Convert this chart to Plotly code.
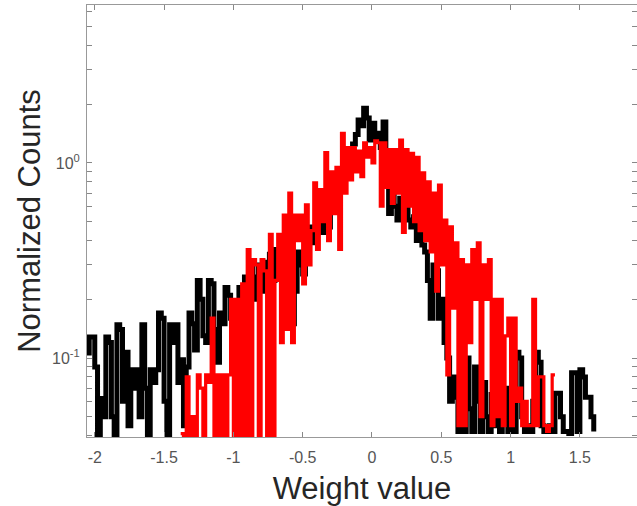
import plotly.graph_objects as go

# Black histogram (bins of 0.02 starting at -2.06)
black_x0 = -2.06
black_step = 0.02
black_counts = [
    0.106, 0.128, 0.128, 0.09, 0.04, 0.062, 0.05, 0.128, 0.12, 0.05,
    0.04, 0.148, 0.14, 0.06, 0.107, 0.045, 0.087, 0.07, 0.087, 0.05,
    0.148, 0.07, 0.04, 0.087, 0.075, 0.087, 0.17, 0.16, 0.06, 0.04,
    0.148, 0.12, 0.148, 0.075, 0.098, 0.045, 0.09, 0.17, 0.15, 0.11,
    0.25, 0.2, 0.13, 0.12, 0.25, 0.24, 0.14, 0.095, 0.17, 0.15,
    0.23, 0.21, 0.16, 0.12, 0.19, 0.23, 0.18, 0.26, 0.21, 0.29,
    0.2, 0.26, 0.3, 0.22, 0.31, 0.27, 0.34, 0.25, 0.36, 0.3,
    0.33, 0.4, 0.29, 0.2, 0.15, 0.22, 0.35, 0.3, 0.27, 0.32,
    0.42, 0.47, 0.39, 0.5, 0.44, 0.52, 0.44, 0.47, 0.58, 0.67,
    0.75, 0.82, 0.9, 0.98, 1.05, 1.1, 1.25, 1.4, 1.66, 1.55,
    1.91, 1.7, 1.31, 1.6, 1.35, 1.42, 1.2, 1.62, 1.1, 0.55,
    0.72, 0.6, 0.51, 0.66, 0.55, 0.6, 0.51, 0.47, 0.53, 0.4,
    0.45, 0.38, 0.35, 0.25, 0.16, 0.3, 0.28, 0.16, 0.2, 0.12,
    0.1, 0.06, 0.08, 0.063, 0.042, 0.07, 0.042, 0.1, 0.055, 0.042,
    0.09, 0.06, 0.042, 0.075, 0.05, 0.042, 0.065, 0.045, 0.06, 0.042,
    0.055, 0.07, 0.042, 0.06, 0.042, 0.107, 0.1, 0.05, 0.042, 0.045,
    0.042, 0.06, 0.107, 0.095, 0.045, 0.042, 0.042, 0.045, 0.042, 0.066,
    0.066, 0.05, 0.042, 0.042, 0.041, 0.084, 0.084, 0.042, 0.087, 0.08,
    0.063, 0.063, 0.05, 0.042, None, 0.042, None, None, None, None,
    0.042, None,
]

# Red histogram (bins of 0.02 starting at -1.64)
red_x0 = -1.64
red_step = 0.02
red_counts = [
    None, 0.041, None, None, 0.041, None, None, None, 0.041, None,
    None, None, None, 0.041, 0.04, 0.08, 0.04, 0.05, 0.04, 0.082,
    0.07, 0.04, 0.082, 0.075, 0.16, 0.04, 0.082, 0.04, 0.082, 0.04,
    0.082, 0.2, 0.04, 0.2, 0.04, 0.24, 0.04, 0.36, 0.04, 0.32,
    0.3, 0.04, 0.32, 0.28, 0.04, 0.43, 0.04, 0.25, 0.43, 0.12,
    0.54, 0.14, 0.7, 0.12, 0.54, 0.4, 0.54, 0.24, 0.61, 0.3,
    0.45, 0.79, 0.36, 0.73, 0.5, 1.13, 0.4, 0.9, 0.55, 0.95,
    0.36, 1.42, 0.7, 1.2, 0.82, 1.2, 0.9, 1.15, 0.85, 1.27,
    1.07, 1.2, 1.0, 1.3, 1.27, 0.6, 1.27, 0.75, 1.17, 0.62,
    1.17, 0.7, 1.31, 0.44, 1.17, 0.6, 1.12, 0.5, 1.07, 0.45,
    0.89, 0.4, 0.8, 0.35, 0.7, 0.22, 0.77, 0.3, 0.51, 0.082,
    0.47, 0.18, 0.39, 0.045, 0.32, 0.045, 0.3, 0.12, 0.36, 0.2,
    0.39, 0.05, 0.3, 0.2, 0.32, 0.045, 0.2, 0.05, 0.2, 0.045,
    0.13, 0.16, 0.045, 0.16, 0.06, 0.07, 0.045, 0.06, 0.045, 0.045,
    0.2, 0.045, 0.08, 0.08, 0.045, 0.042, 0.045, 0.082, 0.082,
]

x_tick_vals = [-2, -1.5, -1, -0.5, 0, 0.5, 1, 1.5]
x_tick_text = ["-2", "-1.5", "-1", "-0.5", "0", "0.5", "1", "1.5"]
y_tick_vals = [0.1, 1]
y_tick_text = ["10<sup>-1</sup>", "10<sup>0</sup>"]
y_minor_vals = [0.04, 0.05, 0.06, 0.07, 0.08, 0.09, 0.2, 0.3, 0.4, 0.5,
                0.6, 0.7, 0.8, 0.9, 2, 3, 4, 5, 6]

bx = [round(black_x0 + i * black_step, 4) for i in range(len(black_counts))]
rx = [round(red_x0 + i * red_step, 4) for i in range(len(red_counts))]

fig = go.Figure()
fig.add_trace(go.Scatter(x=bx, y=black_counts, mode="lines",
                         line=dict(color="black", width=5, shape="hv"),
                         connectgaps=False, showlegend=False))
fig.add_trace(go.Scatter(x=rx, y=red_counts, mode="lines",
                         line=dict(color="#ff0000", width=3.2, shape="hv"),
                         connectgaps=False, showlegend=False))

font_family = "Liberation Sans, Arial, sans-serif"
axis_common = dict(showline=True, linecolor="#999999", linewidth=1, mirror="ticks",
                   ticks="inside", ticklen=5, tickcolor="#888888", showgrid=False,
                   zeroline=False, tickfont=dict(family=font_family, size=16, color="#555555"))

fig.update_xaxes(range=[-2.056, 1.912], tickvals=x_tick_vals, ticktext=x_tick_text,
                 ticklabelstandoff=6,
                 title=dict(text="Weight value", standoff=12,
                            font=dict(family=font_family, size=31, color="#262626")),
                 **axis_common)
fig.update_yaxes(type="log", range=[-1.405, 0.81], tickvals=y_tick_vals, ticktext=y_tick_text,
                 ticklabelstandoff=3,
                 minor=dict(tickvals=y_minor_vals, ticks="inside", ticklen=5,
                            tickcolor="#888888", showgrid=False),
                 title=dict(text="Normalized Counts", standoff=2,
                            font=dict(family=font_family, size=31, color="#262626")),
                 **axis_common)

fig.update_layout(width=637, height=506, margin=dict(l=87, r=0, t=5, b=69),
                  plot_bgcolor="white", paper_bgcolor="white")

fig.write_html("out.html", config={"displayModeBar": False},
               post_script="document.body.style.margin='0';document.body.style.overflow='hidden';")
